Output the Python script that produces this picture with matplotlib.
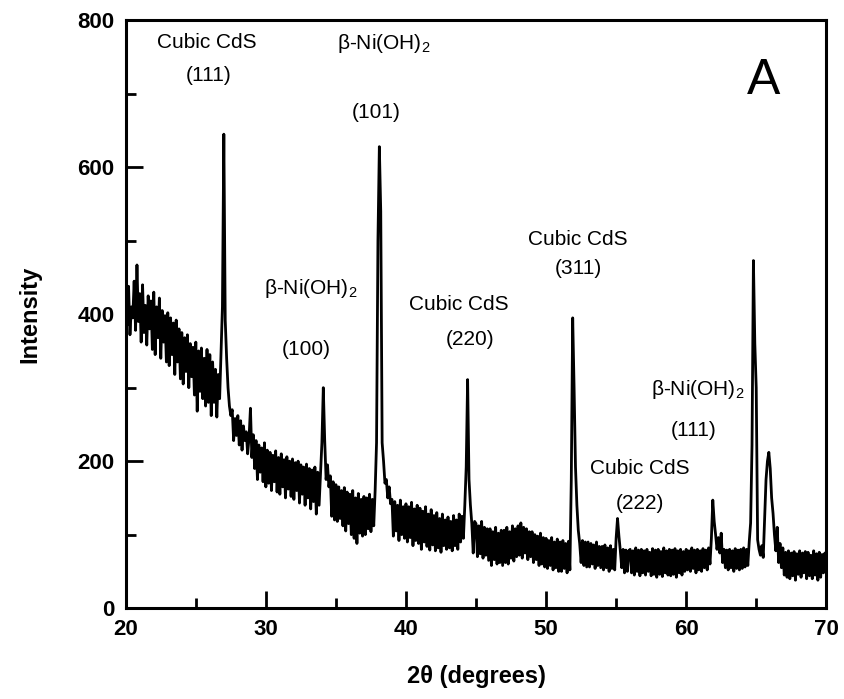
import numpy as np
import matplotlib
matplotlib.use("Agg")
import matplotlib.pyplot as plt

# 2-theta grid: 20.0 .. 70.0 in 0.1 deg steps, intensities
two_theta = np.round(np.arange(200, 701) / 10.0, 1)

intensity = [
    420, 385, 438, 372, 410, 395, 445, 378, 467, 390,   # 20
    428, 362, 440, 375, 412, 358, 425, 380, 418, 352,   # 21
    430, 345, 410, 368, 422, 340, 405, 362, 398, 335,   # 22
    402, 330, 395, 345, 388, 318, 392, 335, 380, 312,   # 23
    375, 305, 368, 322, 372, 300, 360, 315, 355, 290,   # 24
    362, 268, 350, 295, 354, 285, 340, 275, 352, 280,   # 25
    345, 262, 335, 280, 325, 260, 318, 285, 350, 410,   # 26
    645, 392, 340, 300, 275, 262, 270, 228, 258, 235,   # 27
    262, 222, 255, 215, 248, 228, 240, 210, 232, 272,   # 28
    205, 236, 190, 228, 175, 222, 185, 218, 172, 225,   # 29
    165, 215, 170, 212, 160, 208, 172, 214, 158, 205,   # 30
    155, 210, 165, 202, 150, 206, 162, 200, 152, 203,   # 31
    148, 198, 160, 200, 143, 195, 155, 192, 140, 196,   # 32
    150, 190, 135, 188, 145, 192, 128, 185, 140, 182,   # 33
    225, 300, 228, 175, 195, 165, 180, 125, 172, 120,   # 34
    168, 118, 165, 122, 160, 112, 164, 105, 158, 115,   # 35
    155, 100, 160, 95, 150, 88, 156, 102, 148, 98,      # 36
    152, 100, 150, 108, 155, 104, 148, 112, 160, 225,   # 37
    500, 628, 540, 225, 200, 170, 175, 150, 165, 142,   # 38
    148, 98, 145, 105, 140, 92, 147, 100, 138, 95,      # 39
    142, 90, 138, 96, 144, 85, 135, 92, 140, 88,        # 40
    136, 80, 132, 90, 138, 84, 128, 79, 134, 86,        # 41
    126, 78, 130, 82, 122, 76, 128, 85, 120, 80,        # 42
    124, 82, 118, 78, 126, 85, 120, 80, 128, 90,        # 43
    125, 95, 140, 192, 311, 175, 140, 115, 75, 118,     # 44
    115, 70, 112, 74, 118, 68, 110, 72, 108, 65,        # 45
    108, 58, 104, 66, 110, 60, 102, 62, 106, 58,        # 46
    106, 62, 110, 60, 104, 68, 112, 64, 108, 70,        # 47
    112, 72, 116, 68, 110, 75, 108, 66, 104, 70,        # 48
    104, 62, 100, 66, 98, 58, 102, 60, 96, 56,          # 49
    95, 54, 92, 58, 96, 52, 90, 55, 94, 50,             # 50
    90, 50, 92, 54, 88, 48, 91, 52, 175, 395,           # 51
    300, 192, 140, 106, 88, 62, 92, 58, 90, 56,         # 52
    90, 56, 88, 60, 86, 54, 90, 58, 84, 55,             # 53
    84, 52, 86, 55, 82, 50, 85, 54, 80, 52,             # 54
    95, 122, 98, 78, 55, 80, 48, 79, 50, 78,            # 55
    80, 48, 78, 45, 82, 50, 79, 44, 80, 48,             # 56
    78, 45, 80, 50, 76, 44, 81, 46, 79, 42,             # 57
    80, 46, 77, 43, 82, 48, 78, 45, 80, 44,             # 58
    79, 46, 81, 42, 78, 48, 80, 45, 77, 50,             # 59
    80, 52, 78, 50, 82, 54, 79, 48, 80, 52,             # 60
    78, 50, 81, 55, 79, 52, 82, 60, 95, 147,            # 61
    118, 100, 80, 96, 75, 102, 62, 80, 55, 79,          # 62
    52, 80, 55, 78, 50, 81, 54, 79, 52, 80,             # 63
    54, 82, 56, 80, 58, 90, 116, 222, 473, 360,         # 64
    300, 93, 80, 72, 85, 69, 120, 175, 200, 212,        # 65
    190, 150, 129, 100, 78, 110, 62, 88, 55, 82,        # 66
    45, 76, 42, 78, 40, 75, 44, 77, 38, 74,             # 67
    46, 78, 42, 75, 48, 77, 40, 76, 44, 72,             # 68
    40, 78, 45, 74, 38, 76, 42, 73, 48, 75,             # 69
    60,                                                 # 70
]

# peak labels: (line1, line2, x1, x2, y1, y2)
labels = [
    ("Cubic CdS", "(111)", 25.8, 25.9, 770, 725),
    ("β-Ni(OH)$_2$", "(101)", 38.4, 37.9, 768, 675),
    ("β-Ni(OH)$_2$", "(100)", 33.2, 32.9, 435, 352),
    ("Cubic CdS", "(220)", 43.8, 44.6, 413, 365),
    ("Cubic CdS", "(311)", 52.3, 52.3, 502, 462),
    ("β-Ni(OH)$_2$", "(111)", 60.8, 60.5, 298, 242),
    ("Cubic CdS", "(222)", 56.7, 56.7, 190, 142),
]

plt.rcParams['font.family'] = ['Liberation Sans', 'DejaVu Sans']
plt.rcParams['mathtext.fontset'] = 'custom'
plt.rcParams['mathtext.rm'] = 'Liberation Sans'

fig = plt.figure(figsize=(8.44, 6.99), dpi=100)
ax = fig.add_axes([0.149, 0.130, 0.830, 0.841])

ax.plot(two_theta, intensity, color='black', lw=2.0)

ax.set_xlim(20, 70)
ax.set_ylim(0, 800)
ax.set_xticks(np.arange(20, 71, 10))
ax.set_xticks(np.arange(25, 70, 10), minor=True)
ax.set_yticks(np.arange(0, 801, 200))
ax.set_yticks(np.arange(100, 800, 200), minor=True)
ax.tick_params(which='both', direction='in', width=2, top=False, right=False)
ax.tick_params(which='major', length=12, pad=8)
ax.tick_params(which='minor', length=7)
for lab in ax.get_xticklabels() + ax.get_yticklabels():
    lab.set_fontweight('bold')
    lab.set_fontsize(16)
for sp in ax.spines.values():
    sp.set_linewidth(2.2)

ax.set_xlabel("2θ (degrees)", fontsize=17, fontweight='bold', labelpad=18)
ax.set_ylabel("Intensity", fontsize=17, fontweight='bold', labelpad=26)

for top, bottom, x1, x2, y1, y2 in labels:
    ax.text(x1, y1, top, ha='center', va='center', fontsize=15)
    ax.text(x2, y2, bottom, ha='center', va='center', fontsize=15)

ax.text(65.5, 718, "A", ha='center', va='center', fontsize=36)

fig.savefig("out.png", dpi=100)
